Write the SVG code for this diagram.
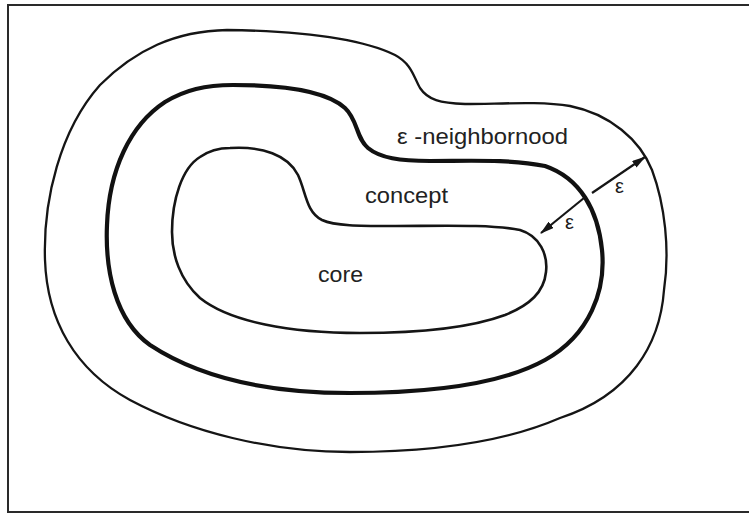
<svg xmlns="http://www.w3.org/2000/svg" width="749" height="518" viewBox="0 0 749 518">
<style>
.bg{fill:#ffffff}
.frame{fill:none;stroke:#2a2a2a;stroke-width:2}
.thin{fill:none;stroke:#151515;stroke-width:2.3}
.thick{fill:none;stroke:#111111;stroke-width:4.2}
.inner{fill:none;stroke:#151515;stroke-width:2.6}
.lbl{font-family:"Liberation Sans",Arial,sans-serif;font-size:22px;fill:#222222}
.eps{font-family:"Liberation Sans",Arial,sans-serif;font-size:20px;fill:#1a1a1a}
.arrow{fill:none;stroke:#151515;stroke-width:2.2}
</style>
<defs>
<marker id="head" viewBox="0 0 14 8" refX="13" refY="4" markerWidth="14" markerHeight="8" markerUnits="userSpaceOnUse" orient="auto">
<path d="M0,0 L14,4 L0,8 Z" fill="#151515"/>
</marker>
</defs>
<rect class="bg" x="0" y="0" width="749" height="518"/>
<g id="frame">
<path class="frame" d="M749,5 L8,5 L8,512 L749,512"/>
</g>
<g id="neighborhood">
<path class="thin" d="M227,30 C300,31 360,38 395,55 C412,64 414,78 420,88 C428,100 440,103 465,104 C500,104 540,101 570,106 C610,114 640,140 652,170 C665,205 670,250 664,290 C660,345 630,395 560,418 C500,444 420,452 350,452 C270,452 190,432 130,400 C75,370 47,320 45,260 C43,200 60,130 100,85 C135,50 175,31 227,30 Z"/>
</g>
<g id="concept">
<path class="thick" d="M233,85 C280,85 325,90 345,108 C358,120 356,138 368,148 C380,158 400,161 430,161 C470,161 510,159 545,166 C580,178 598,210 602,250 C606,290 590,335 545,360 C500,385 430,393 350,393 C270,393 200,378 150,345 C115,320 105,270 107,225 C109,170 130,125 165,102 C185,90 205,85 233,85 Z"/>
</g>
<g id="core">
<path class="inner" d="M230,148 C262,146 288,155 298,175 C306,192 306,212 322,220 C335,226 360,226 390,226 C440,226 490,224 520,230 C540,236 548,255 546,272 C544,292 530,305 505,315 C470,328 420,333 360,333 C290,333 230,322 200,298 C180,280 172,255 172,232 C172,200 182,168 200,157 C210,150 220,148 230,148 Z"/>
</g>
<g id="connectors">
<line class="arrow" x1="592" y1="193" x2="645" y2="157" marker-end="url(#head)"/>
<line class="arrow" x1="584" y1="198" x2="541" y2="233" marker-end="url(#head)"/>
</g>
<g id="labels">
<text class="lbl" x="397" y="144" textLength="171" lengthAdjust="spacingAndGlyphs">ε -neighbornood</text>
<text class="lbl" x="365" y="203" textLength="83" lengthAdjust="spacingAndGlyphs">concept</text>
<text class="lbl" x="318" y="282" textLength="45" lengthAdjust="spacingAndGlyphs">core</text>
<text class="eps" x="615" y="193">ε</text>
<text class="eps" x="565" y="229">ε</text>
</g>
</svg>
